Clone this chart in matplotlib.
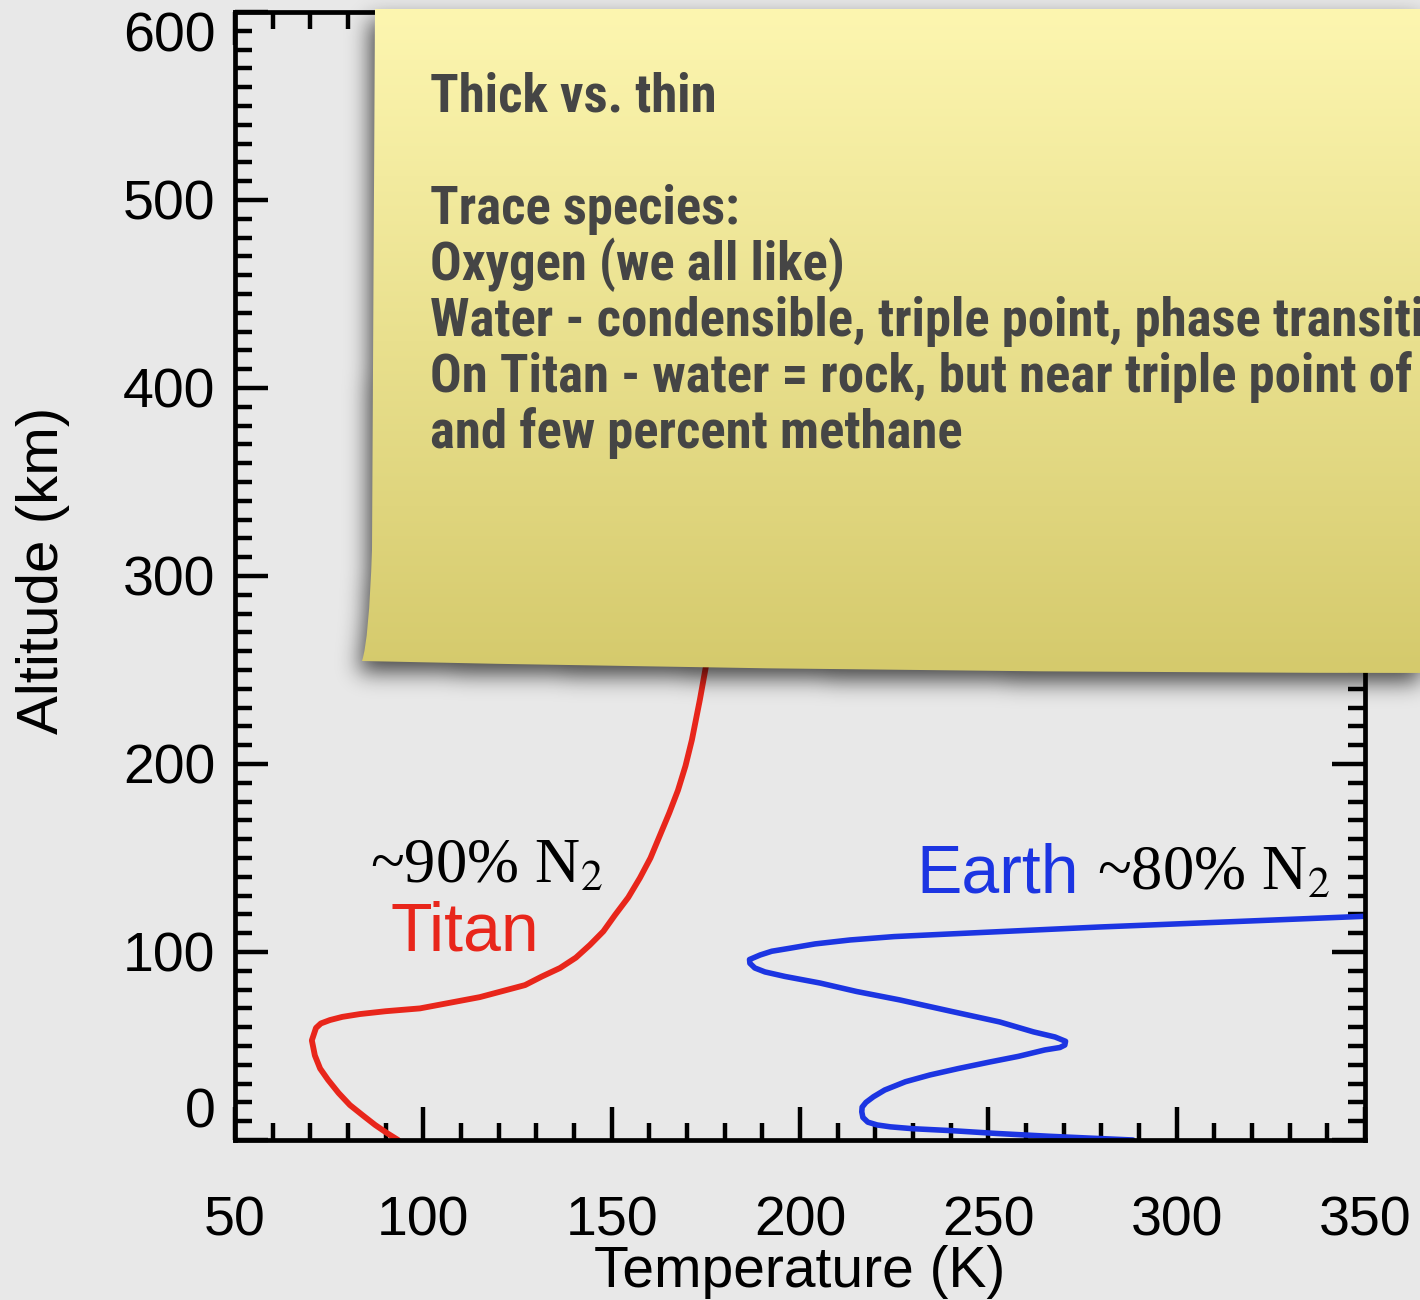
import numpy as np
import matplotlib
matplotlib.use("Agg")
import matplotlib.pyplot as plt
from matplotlib import font_manager
from matplotlib.path import Path
from matplotlib.patches import PathPatch
from matplotlib.ticker import MultipleLocator

# Temperature profiles: temperature (K) against altitude (km)
titan_temp = [93.3, 90.5, 87.2, 84.0, 80.5, 77.5, 74.7, 72.6, 71.2, 70.4, 71.5, 72.8,
              75.2, 78.5, 83.2, 90.0, 99.1, 115.0, 127.0, 131.5, 136.3, 140.5, 144.2,
              147.8, 150.9, 154.4, 157.5, 160.3, 162.8, 165.3, 167.6, 169.6, 171.3,
              173.4, 175.3, 178.7]
titan_alt = [0, 3.5, 8, 13, 18.6, 25, 32, 38, 45, 53, 59.6, 62,
             63.8, 65.5, 67, 68.5, 70, 76, 82.4, 87, 91.5, 97, 103.7,
             111, 119.7, 129, 139.4, 150, 162, 174, 186, 199, 212.8,
             234, 255, 314]

earth_temp = [288.4, 277.0, 266.0, 252.0, 240.0, 230.0, 224.0, 220.5, 218.0, 216.7,
              216.4, 216.5, 217.5, 219.5, 222.5, 228.0, 234.5, 242.0, 250.4, 258.0,
              265.0, 269.0, 270.3, 270.5, 267.7, 262.0, 253.0, 240.0, 226.5, 215.0,
              205.3, 196.0, 190.7, 188.0, 186.7, 186.6, 189.4, 192.5, 197.3, 204.0,
              213.3, 225.0, 239.8, 258.0, 279.6, 319.4, 350.0, 380.0]
earth_alt = [0, 1, 2, 3.5, 5, 6, 7, 8, 9.5, 12,
             15, 17.5, 20, 23, 26.6, 31, 34.6, 38, 41.5, 44.5,
             47.9, 49.2, 50.5, 52.5, 54.8, 57.5, 62.8, 68.5, 74.5, 79,
             83.5, 87, 89.4, 91.5, 94, 96, 98.4, 100.4, 102, 104.3,
             106.4, 108.2, 109.6, 111.3, 113.3, 116.5, 119, 121.5]

x_ticks = [50, 100, 150, 200, 250, 300, 350]
y_ticks = [0, 100, 200, 300, 400, 500, 600]

note_lines = [
    "Thick vs. thin",
    "",
    "Trace species:",
    "Oxygen (we all like)",
    "Water - condensible, triple point, phase transition",
    "On Titan - water = rock, but near triple point of methane",
    "and few percent methane",
]

BG = "#e8e8e8"
TITAN_RED = "#e8261b"
EARTH_BLUE = "#1c35e2"
NOTE_INK = "#454545"

plt.rcParams["font.family"] = ["Liberation Sans", "DejaVu Sans"]
plt.rcParams["mathtext.fontset"] = "stix"

W, H = 1420, 1300
fig = plt.figure(figsize=(W / 100, H / 100), dpi=100, facecolor=BG)

# ---- main temperature/altitude axes ----
ax_l, ax_r, ax_t, ax_b = 235, 1365, 12, 1140
ax = fig.add_axes([ax_l / W, 1 - ax_b / H, (ax_r - ax_l) / W, (ax_b - ax_t) / H])
ax.set_facecolor(BG)
ax.plot(titan_temp, titan_alt, color=TITAN_RED, lw=4.2,
        solid_joinstyle="round", solid_capstyle="round")
ax.plot(earth_temp, earth_alt, color=EARTH_BLUE, lw=4.0,
        solid_joinstyle="round", solid_capstyle="round")
ax.set_xlim(50, 350)
ax.set_ylim(0, 600)
ax.set_xticks(x_ticks)
ax.set_yticks(y_ticks)
ax.xaxis.set_minor_locator(MultipleLocator(10))
ax.yaxis.set_minor_locator(MultipleLocator(10))
ax.tick_params(which="both", direction="in", top=True, right=True, width=3.2, color="black")
ax.tick_params(which="major", length=24)
ax.tick_params(which="minor", length=12)
ax.tick_params(axis="x", which="major", pad=40, labelsize=40)
ax.tick_params(axis="y", which="major", pad=14, labelsize=40)
for s in ax.spines.values():
    s.set_linewidth(3.4)

ylabels = ax.get_yticklabels()
ylabels[0].set_va("bottom")
ylabels[-1].set_va("top")

ax.set_xlabel("Temperature (K)", fontsize=41)
ax.xaxis.set_label_coords(0.5, -0.093)
ax.set_ylabel("Altitude (km)", fontsize=42)
ax.yaxis.set_label_coords(-0.146, 0.505)

ax.text(91.2, 101, "Titan", color=TITAN_RED, fontsize=49, ha="left", va="baseline")
ax.text(230.8, 131.4, "Earth", color=EARTH_BLUE, fontsize=49, ha="left", va="baseline")
ax.text(85.8, 137, r"~90% N$_2$", color="black", fontsize=45,
        family=["Liberation Serif", "DejaVu Serif"], ha="left", va="baseline")
ax.text(278.8, 133, r"~80% N$_2$", color="black", fontsize=45,
        family=["Liberation Serif", "DejaVu Serif"], ha="left", va="baseline")

# ---- sticky note overlay (pixel coordinates, y down) ----
ov = fig.add_axes([0, 0, 1, 1])
ov.set_zorder(5)
ov.patch.set_visible(False)
ov.axis("off")

verts = [
    (375, 9), (1450, 9), (1450, 673),
    (900, 673), (362, 661),            # bottom edge (quadratic)
    (369, 640), (372, 550),            # curled lower-left corner
    (375, 9),
]
codes = [Path.MOVETO, Path.LINETO, Path.LINETO,
         Path.CURVE3, Path.CURVE3,
         Path.CURVE3, Path.CURVE3,
         Path.CLOSEPOLY]
note_path = Path(verts, codes)


def gauss_blur(img, sigma):
    r = int(3 * sigma)
    k = np.exp(-0.5 * (np.arange(-r, r + 1) / sigma) ** 2)
    k /= k.sum()
    img = np.apply_along_axis(lambda v: np.convolve(v, k, mode="same"), 0, img)
    img = np.apply_along_axis(lambda v: np.convolve(v, k, mode="same"), 1, img)
    return img


# soft drop shadow, computed at half resolution
sc = 2
gx, gy = np.meshgrid(np.arange(0, W, sc) + sc / 2, np.arange(0, H, sc) + sc / 2)
pts = np.column_stack([gx.ravel(), gy.ravel()])
shadow_path = Path(note_path.vertices + np.array([-4, 10]), note_path.codes)
mask = shadow_path.contains_points(pts).reshape(gx.shape).astype(float)
mask = gauss_blur(mask, 5.5)
shadow = np.zeros(mask.shape + (4,))
shadow[..., 3] = np.clip(mask, 0, 1) * 0.7
ov.imshow(shadow, extent=[0, W, H, 0], interpolation="bilinear", zorder=1, aspect="auto")

# note body with a vertical colour gradient
top_c = np.array([253, 246, 176]) / 255
bot_c = np.array([213, 202, 108]) / 255
t = np.linspace(0, 1, 256)[:, None]
grad = (top_c[None, :] * (1 - t) + bot_c[None, :] * t)[:, None, :]
grad = np.repeat(grad, 2, axis=1)
body = PathPatch(note_path, facecolor="none", edgecolor="none", transform=ov.transData)
ov.add_patch(body)
im = ov.imshow(grad, extent=[300, W + 40, 673, 9], interpolation="bilinear",
               zorder=2, aspect="auto")
im.set_clip_path(body)

ov.set_xlim(0, W)
ov.set_ylim(H, 0)

available = {f.name for f in font_manager.fontManager.ttflist}
note_family = next(
    (f for f in ["Liberation Sans Narrow", "DejaVu Sans Condensed", "Roboto Condensed",
                 "Open Sans Condensed", "Noto Sans Condensed", "Liberation Sans"]
     if f in available),
    "DejaVu Sans",
)

for i, line in enumerate(note_lines):
    if line:
        ov.text(430, 112 + i * 56, line, fontsize=38, color=NOTE_INK, weight="bold",
                family=note_family, ha="left", va="baseline", zorder=3)

fig.savefig("out.png", dpi=100, facecolor=BG)
